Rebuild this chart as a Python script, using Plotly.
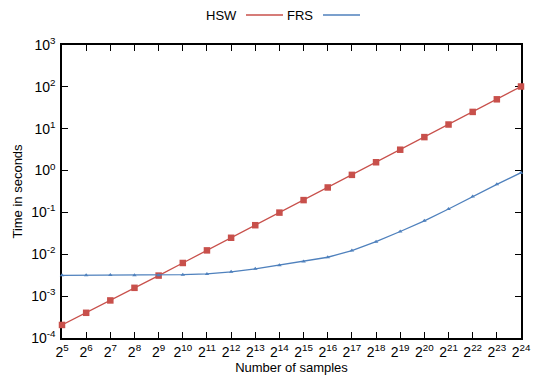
import math
import plotly.graph_objects as go

exponents = list(range(5, 25))
samples = [2 ** e for e in exponents]
tick_labels = [f"2<sup>{e}</sup>" for e in exponents]

hsw_time = [2.05e-4, 4.0e-4, 7.9e-4, 1.58e-3, 3.1e-3, 6.2e-3, 0.0124, 0.0248,
            0.0495, 0.099, 0.197, 0.395, 0.79, 1.58, 3.15, 6.3, 12.6, 25.2,
            50.4, 102]
frs_time = [3.15e-3, 3.17e-3, 3.2e-3, 3.15e-3, 3.15e-3, 3.25e-3, 3.4e-3,
            3.8e-3, 4.5e-3, 5.5e-3, 6.7e-3, 8.5e-3, 0.0123, 0.020, 0.035,
            0.063, 0.121, 0.24, 0.47, 0.89]

y_tickvals = [1e-4, 1e-3, 1e-2, 1e-1, 1, 10, 100, 1000]
y_ticktext = ["10<sup>-4</sup>", "10<sup>-3</sup>", "10<sup>-2</sup>", "10<sup>-1</sup>",
              "10<sup>0</sup>", "10<sup>1</sup>", "10<sup>2</sup>", "10<sup>3</sup>"]

RED = "#C8504B"
BLUE = "#4F81BD"
FONT = "Liberation Sans, Arial, sans-serif"

fig = go.Figure()
fig.add_trace(go.Scatter(x=samples, y=hsw_time, mode="lines+markers", name="HSW",
                         line=dict(color=RED, width=1.3),
                         marker=dict(symbol="square", size=6.5, color=RED),
                         cliponaxis=False, showlegend=False))
fig.add_trace(go.Scatter(x=samples, y=frs_time, mode="lines+markers", name="FRS",
                         line=dict(color=BLUE, width=1.3),
                         marker=dict(symbol="triangle-up", size=4, color=BLUE),
                         cliponaxis=False, showlegend=False))

W, H = 533, 381
L, R, T, B = 62, 12, 45, 43
pw, ph = W - L - R, H - T - B

def px(x):
    return (x - L) / pw

def py(y):
    return (H - B - y) / ph

ly = py(15)
fig.add_shape(type="line", xref="paper", yref="paper", x0=px(246), x1=px(283), y0=ly, y1=ly,
              line=dict(color=RED, width=1.3))
fig.add_shape(type="line", xref="paper", yref="paper", x0=px(323), x1=px(360), y0=ly, y1=ly,
              line=dict(color=BLUE, width=1.3))
fig.add_annotation(text="HSW", xref="paper", yref="paper", x=px(239), y=ly, xanchor="right",
                   yanchor="middle", showarrow=False, font=dict(size=13, color="#000"))
fig.add_annotation(text="FRS", xref="paper", yref="paper", x=px(315), y=ly, xanchor="right",
                   yanchor="middle", showarrow=False, font=dict(size=13, color="#000"))

axis_common = dict(showgrid=False, zeroline=False, showline=True, linecolor="#000", linewidth=1.5,
                   mirror="ticks", ticks="inside", ticklen=6, tickwidth=1, tickcolor="#000",
                   automargin=False, layer="below traces",
                   tickfont=dict(size=14, color="#000", family=FONT))

eps = 1e-6
fig.update_xaxes(type="log", range=[math.log10(samples[0]) - eps, math.log10(samples[-1]) + eps],
                 tickvals=samples,
                 ticktext=tick_labels, title=dict(text="Number of samples", standoff=4,
                 font=dict(size=13, color="#000", family=FONT)), **axis_common)
fig.update_yaxes(type="log", range=[-4 - eps, 3 + eps], tickvals=y_tickvals, ticktext=y_ticktext,
                 ticklabelstandoff=2,
                 title=dict(text="Time in seconds", standoff=6,
                 font=dict(size=13, color="#000", family=FONT)), **axis_common)

fig.update_layout(width=W, height=H, margin=dict(l=L, r=R, t=T, b=B),
                  paper_bgcolor="white", plot_bgcolor="white",
                  font=dict(family=FONT, size=13, color="#000"))

fig.write_html("out.html")
